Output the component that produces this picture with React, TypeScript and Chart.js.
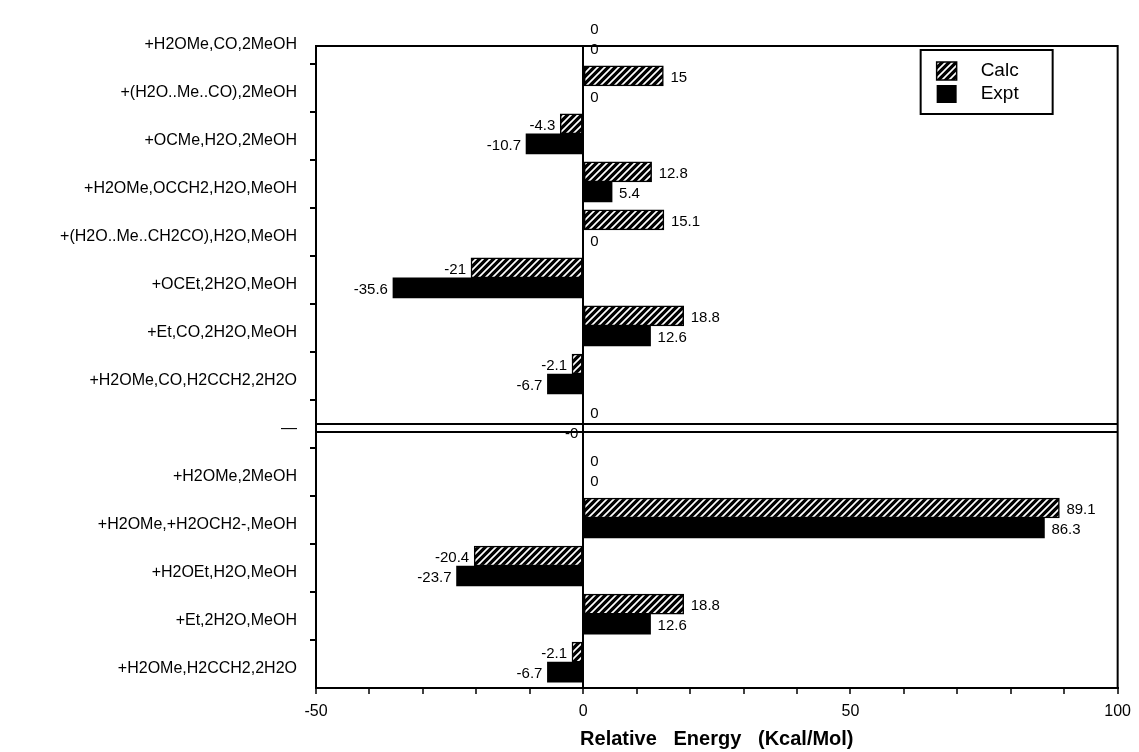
import React, { useEffect, useRef } from 'react';
import { Chart, registerables } from 'chart.js';

Chart.register(...registerables);

const categories = [
  '+H2OMe,CO,2MeOH',
  '+(H2O..Me..CO),2MeOH',
  '+OCMe,H2O,2MeOH',
  '+H2OMe,OCCH2,H2O,MeOH',
  '+(H2O..Me..CH2CO),H2O,MeOH',
  '+OCEt,2H2O,MeOH',
  '+Et,CO,2H2O,MeOH',
  '+H2OMe,CO,H2CCH2,2H2O',
  '—',
  '+H2OMe,2MeOH',
  '+H2OMe,+H2OCH2-,MeOH',
  '+H2OEt,H2O,MeOH',
  '+Et,2H2O,MeOH',
  '+H2OMe,H2CCH2,2H2O',
];
const calcValues = [0, 15, -4.3, 12.8, 15.1, -21, 18.8, -2.1, 0, 0, 89.1, -20.4, 18.8, -2.1];
const exptValues = [0, 0, -10.7, 5.4, 0, -35.6, 12.6, -6.7, -0, 0, 86.3, -23.7, 12.6, -6.7];
const seriesNames = ['Calc', 'Expt'];
const xTickLabels = [-50, 0, 50, 100];
const separatorIndex = 8;

const FONT = "'Liberation Sans', Arial, Helvetica, sans-serif";

function makeHatch(): CanvasPattern | string {
  const s = 7;
  const c = document.createElement('canvas');
  c.width = s;
  c.height = s;
  const g = c.getContext('2d');
  if (!g) return '#333';
  g.fillStyle = '#000';
  g.fillRect(0, 0, s, s);
  g.strokeStyle = '#fff';
  g.lineWidth = 1.7;
  g.beginPath();
  g.moveTo(-s, s);
  g.lineTo(s, -s);
  g.moveTo(0, s);
  g.lineTo(s, 0);
  g.moveTo(0, 2 * s);
  g.lineTo(2 * s, 0);
  g.stroke();
  const p = g.createPattern(c, 'repeat');
  return p || '#333';
}

const fmt = (v: number) => (Object.is(v, -0) ? '-0' : String(v));

export default function App() {
  const ref = useRef<HTMLCanvasElement>(null);

  useEffect(() => {
    const canvas = ref.current;
    if (!canvas) return;
    Chart.defaults.font.family = FONT;
    const hatch = makeHatch();
    const sources = [calcValues, exptValues];

    const overlay = {
      id: 'overlay',
      afterDatasetsDraw(chart: any) {
        const { ctx, chartArea: a, scales } = chart;
        ctx.save();
        // value labels
        ctx.font = `15px ${FONT}`;
        ctx.fillStyle = '#000';
        ctx.textBaseline = 'middle';
        chart.data.datasets.forEach((_ds: any, di: number) => {
          const meta = chart.getDatasetMeta(di);
          meta.data.forEach((el: any, i: number) => {
            const v = sources[di][i];
            const neg = v < 0 || Object.is(v, -0);
            ctx.textAlign = neg ? 'right' : 'left';
            ctx.fillText(fmt(v), el.x + (neg ? -5 : 7), el.y + 2);
          });
        });
        // separator double line
        const ys = scales.y.getPixelForValue(separatorIndex) + 6;
        ctx.strokeStyle = '#000';
        ctx.lineWidth = 2;
        ctx.beginPath();
        ctx.moveTo(a.left, ys - 4);
        ctx.lineTo(a.right, ys - 4);
        ctx.moveTo(a.left, ys + 4);
        ctx.lineTo(a.right, ys + 4);
        ctx.stroke();
        // frame top & right
        ctx.beginPath();
        ctx.moveTo(a.left - 1, a.top);
        ctx.lineTo(a.right, a.top);
        ctx.lineTo(a.right, a.bottom);
        ctx.stroke();
        // legend
        const lx = a.right - 197;
        const ly = a.top + 4;
        ctx.fillStyle = '#fff';
        ctx.fillRect(lx, ly, 132, 64);
        ctx.strokeRect(lx, ly, 132, 64);
        ctx.fillStyle = hatch as any;
        ctx.fillRect(lx + 16, ly + 12, 20, 18);
        ctx.lineWidth = 1.5;
        ctx.strokeRect(lx + 16, ly + 12, 20, 18);
        ctx.fillStyle = '#000';
        ctx.fillRect(lx + 16, ly + 35, 20, 18);
        ctx.font = `19px ${FONT}`;
        ctx.textAlign = 'left';
        ctx.textBaseline = 'middle';
        ctx.fillText(seriesNames[0], lx + 60, ly + 21);
        ctx.fillText(seriesNames[1], lx + 60, ly + 44);
        ctx.restore();
      },
    };

    const chart = new Chart(canvas, {
      type: 'bar',
      data: {
        datasets: [
          {
            label: seriesNames[0],
            data: calcValues.map((v, i) => ({ x: v, y: i })),
            backgroundColor: hatch as any,
            borderColor: '#000',
            borderWidth: 1.5,
            borderSkipped: false,
            barThickness: 20,
          },
          {
            label: seriesNames[1],
            data: exptValues.map((v, i) => ({ x: v, y: i })),
            backgroundColor: '#000',
            borderWidth: 0,
            barThickness: 20,
          },
        ],
      },
      options: {
        indexAxis: 'y',
        animation: false,
        responsive: false,
        devicePixelRatio: 1,
        layout: { padding: { top: 46, right: 20, bottom: 0, left: 0 } },
        plugins: {
          legend: { display: false },
          tooltip: { enabled: false },
          title: { display: false },
        },
        scales: {
          x: {
            type: 'linear',
            min: -50,
            max: 100,
            afterFit: (s: any) => {
              s.height = 64;
            },
            ticks: {
              stepSize: 10,
              autoSkip: false,
              maxRotation: 0,
              padding: 8,
              color: '#000',
              font: { size: 16, family: FONT },
              callback: (v: any) => (xTickLabels.includes(Number(v)) ? String(v) : ''),
            },
            grid: {
              drawOnChartArea: true,
              drawTicks: true,
              tickLength: 6,
              lineWidth: 2,
              tickColor: '#000',
              tickWidth: 1.5,
              color: (c: any) => (c.tick && c.tick.value === 0 ? '#000' : 'rgba(0,0,0,0)'),
            },
            border: { display: true, color: '#000', width: 2 },
            title: {
              display: true,
              text: 'Relative   Energy   (Kcal/Mol)',
              color: '#000',
              font: { size: 20, weight: 'bold', family: FONT },
              padding: { top: 0, bottom: 1 },
            },
          },
          y: {
            type: 'linear',
            reverse: true,
            offset: false,
            min: 0.17,
            max: 13.54,
            afterBuildTicks: (s: any) => {
              const t: any[] = [];
              categories.forEach((_c, i) => {
                t.push({ value: i });
                if (i < categories.length - 1) t.push({ value: i + 0.54 });
              });
              s.ticks = t;
            },
            afterFit: (s: any) => {
              s.width = 316;
            },
            ticks: {
              autoSkip: false,
              padding: 13,
              labelOffset: 7,
              color: '#000',
              font: { size: 16, family: FONT },
              callback: (v: any) => (Number.isInteger(v) ? categories[v] : ''),
            },
            grid: {
              offset: false,
              drawOnChartArea: false,
              drawTicks: true,
              tickLength: 6,
              lineWidth: 2,
              color: (c: any) =>
                c.tick && Number.isInteger(c.tick.value) ? 'rgba(0,0,0,0)' : '#000',
            },
            border: { display: true, color: '#000', width: 2 },
          },
        },
      },
      plugins: [overlay],
    } as any);

    return () => chart.destroy();
  }, []);

  return (
    <div style={{ position: 'absolute', left: 0, top: 0, width: 1139, height: 752, background: '#fff' }}>
      <canvas ref={ref} width={1139} height={752} style={{ display: 'block' }} />
    </div>
  );
}
